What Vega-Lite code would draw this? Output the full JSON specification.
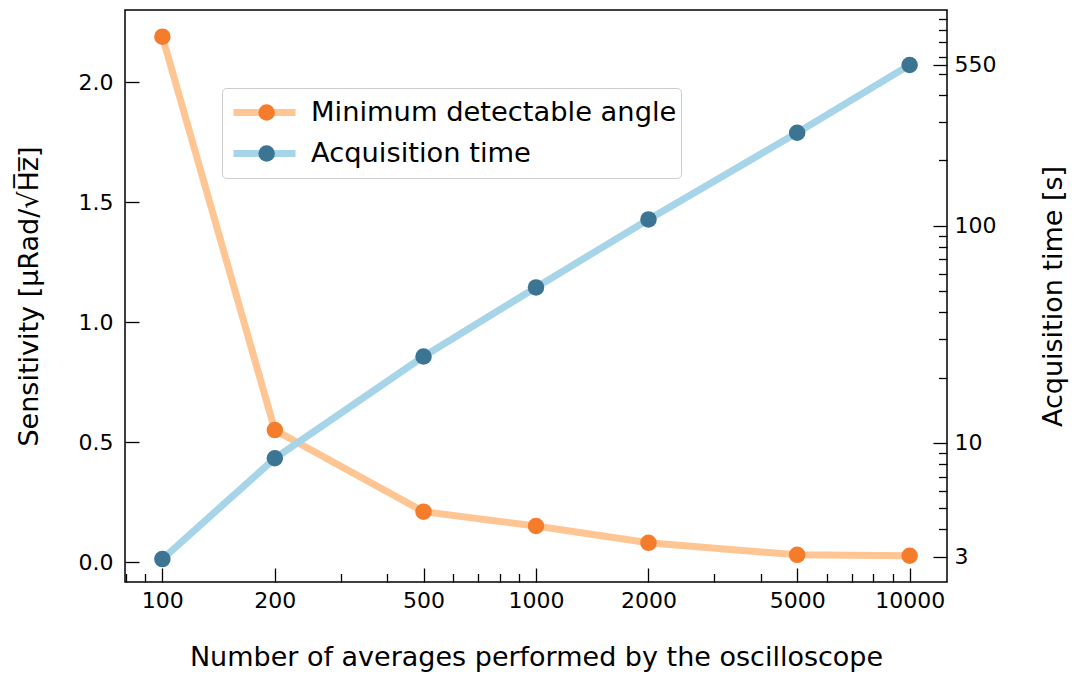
{
  "$schema": "https://vega.github.io/schema/vega-lite/v6.json",
  "width": 822,
  "height": 572,
  "autosize": {"type": "none"},
  "padding": {"left": 125, "top": 10, "right": 130, "bottom": 95},
  "background": "white",
  "config": {
    "font": "DejaVu Sans",
    "view": {"stroke": "#000000", "strokeWidth": 1.5},
    "axis": {
      "domain": false,
      "grid": false,
      "labelFont": "DejaVu Sans",
      "labelFontSize": 22,
      "labelColor": "#000000",
      "titleFont": "DejaVu Sans",
      "titleFontSize": 27,
      "titleFontWeight": "normal",
      "titleColor": "#000000",
      "tickColor": "#000000",
      "tickWidth": 1.3,
      "labelFlush": false,
      "labelOverlap": false
    },
    "legend": {
      "labelFont": "DejaVu Sans",
      "labelFontSize": 27.3,
      "labelColor": "#000000",
      "labelLimit": 0
    }
  },
  "data": {
    "values": [
      {"N": 100, "series": "Minimum detectable angle", "value": 2.19},
      {"N": 200, "series": "Minimum detectable angle", "value": 0.55},
      {"N": 500, "series": "Minimum detectable angle", "value": 0.21},
      {"N": 1000, "series": "Minimum detectable angle", "value": 0.15},
      {"N": 2000, "series": "Minimum detectable angle", "value": 0.08},
      {"N": 5000, "series": "Minimum detectable angle", "value": 0.03},
      {"N": 10000, "series": "Minimum detectable angle", "value": 0.026},
      {"N": 100, "series": "Acquisition time", "value": 2.92},
      {"N": 200, "series": "Acquisition time", "value": 8.5},
      {"N": 500, "series": "Acquisition time", "value": 25},
      {"N": 1000, "series": "Acquisition time", "value": 52},
      {"N": 2000, "series": "Acquisition time", "value": 107},
      {"N": 5000, "series": "Acquisition time", "value": 268},
      {"N": 10000, "series": "Acquisition time", "value": 550}
    ]
  },
  "layer": [
    {
      "transform": [{"filter": "datum.series === 'Minimum detectable angle'"}],
      "encoding": {
        "x": {
          "field": "N",
          "type": "quantitative",
          "scale": {"type": "log", "domain": [79.43, 12589], "nice": false},
          "axis": {
            "title": "Number of averages performed by the oscilloscope",
            "values": [80, 90, 100, 200, 300, 400, 500, 600, 700, 800, 900, 1000, 2000, 3000, 4000, 5000, 6000, 7000, 8000, 9000, 10000],
            "labelExpr": "indexof([100, 200, 500, 1000, 2000, 5000, 10000], datum.value) >= 0 ? format(datum.value, 'd') : ''",
            "tickSize": {"condition": {"test": "indexof([100, 200, 500, 1000, 2000, 5000, 10000], datum.value) >= 0", "value": -14}, "value": -8.5},
            "labelPadding": 22,
            "titlePadding": 28
          }
        },
        "y": {
          "field": "value",
          "type": "quantitative",
          "scale": {"domain": [-0.0833, 2.301], "nice": false, "zero": false},
          "axis": {
            "title": "Sensitivity [μRad/√H̅z̅]",
            "values": [0, 0.5, 1, 1.5, 2],
            "format": ".1f",
            "tickSize": -14,
            "labelPadding": 26,
            "titlePadding": 35
          }
        }
      },
      "layer": [
        {
          "mark": {"type": "line", "strokeWidth": 7},
          "encoding": {
            "color": {
              "field": "series",
              "type": "nominal",
              "scale": {"domain": ["Minimum detectable angle", "Acquisition time"], "range": ["#ffc593", "#a6d4e8"]},
              "legend": {
                "title": null,
                "orient": "none",
                "legendX": 97,
                "legendY": 78,
                "direction": "vertical",
                "symbolType": "stroke",
                "symbolSize": 3844,
                "symbolStrokeWidth": 7,
                "clipHeight": 41,
                "rowPadding": 0,
                "padding": 4,
                "symbolOffset": 4,
                "labelOffset": 12,
                "fillColor": "rgba(255,255,255,0.8)",
                "strokeColor": "#cccccc",
                "cornerRadius": 4
              }
            }
          }
        },
        {
          "mark": {"type": "point", "filled": true, "size": 272, "opacity": 1, "strokeWidth": 0},
          "encoding": {
            "fill": {
              "field": "series",
              "type": "nominal",
              "sort": ["Minimum detectable angle", "Acquisition time"],
              "scale": {"range": ["#f57c2b", "#3b7593"]},
              "legend": {
                "title": null,
                "orient": "none",
                "legendX": 97,
                "legendY": 78,
                "direction": "vertical",
                "symbolType": "circle",
                "symbolSize": 272,
                "symbolStrokeWidth": 0,
                "clipHeight": 41,
                "rowPadding": 0,
                "padding": 4,
                "symbolOffset": 27,
                "labelExpr": "''"
              }
            }
          }
        }
      ]
    },
    {
      "transform": [{"filter": "datum.series === 'Acquisition time'"}],
      "encoding": {
        "x": {
          "field": "N",
          "type": "quantitative",
          "scale": {"type": "log", "domain": [79.43, 12589], "nice": false}
        },
        "y": {
          "field": "value",
          "type": "quantitative",
          "scale": {"type": "log", "domain": [2.29, 985], "nice": false},
          "axis": {
            "orient": "right",
            "title": "Acquisition time [s]",
            "titleAngle": 270,
            "titleBaseline": "top",
            "values": [3, 4, 5, 6, 7, 8, 9, 10, 20, 30, 40, 50, 60, 70, 80, 90, 100, 200, 300, 400, 500, 550, 600, 700, 800, 900],
            "labelExpr": "indexof([3, 10, 100, 550], datum.value) >= 0 ? format(datum.value, 'd') : ''",
            "tickSize": {"condition": {"test": "indexof([3, 10, 100, 550], datum.value) >= 0", "value": -14}, "value": -8.5},
            "labelPadding": 21,
            "titlePadding": 45
          }
        }
      },
      "layer": [
        {
          "mark": {"type": "line", "strokeWidth": 7},
          "encoding": {
            "color": {
              "field": "series",
              "type": "nominal",
              "scale": {"domain": ["Minimum detectable angle", "Acquisition time"], "range": ["#ffc593", "#a6d4e8"]}
            }
          }
        },
        {
          "mark": {"type": "point", "filled": true, "size": 272, "opacity": 1, "strokeWidth": 0},
          "encoding": {
            "fill": {
              "field": "series",
              "type": "nominal",
              "sort": ["Minimum detectable angle", "Acquisition time"],
              "scale": {"range": ["#f57c2b", "#3b7593"]}
            }
          }
        }
      ]
    }
  ],
  "resolve": {"scale": {"y": "independent"}}
}
